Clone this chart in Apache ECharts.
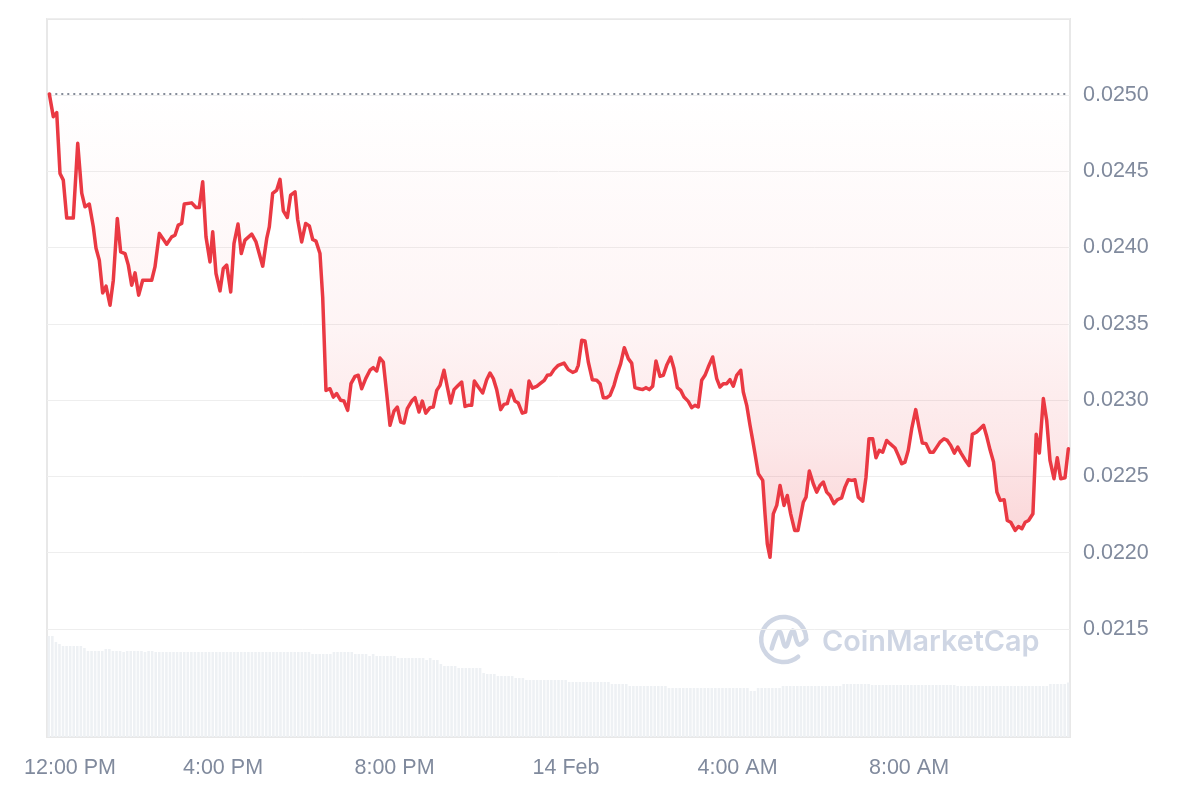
<!DOCTYPE html>
<html>
<head>
<meta charset="utf-8">
<script src="https://cdn.jsdelivr.net/npm/echarts@6/dist/echarts.min.js"></script>
<style>
html,body{margin:0;padding:0;background:#fff;}
#chart{width:1200px;height:800px;}
</style>
</head>
<body>
<div id="chart"></div>
<script>
// x tick labels (minutes after 12:00 PM, 13 Feb)
const tickLabels = ['12:00 PM', '4:00 PM', '8:00 PM', '14 Feb', '4:00 AM', '8:00 AM'];
const tickMinutes = [0, 240, 480, 720, 960, 1200];

// price samples: minutes after 12:00 PM
const priceTimes = [
-3.1, 2.5, 7.3, 11.9, 16.5, 21.3, 30.5, 36.7, 42.3, 46.9,
52.9, 58.5, 62.3, 66.9, 71.6, 76.3, 81.9, 86.5, 92.1, 96.8,
102.9, 107.5, 112.2, 116.9, 122.0, 127.6, 140.2, 144.8, 150.9, 161.2,
168.2, 172.8, 177.4, 182.2, 185.8, 196.2, 202.2, 206.8, 211.6, 216.2,
221.8, 225.6, 230.2, 235.8, 240.4, 245.2, 250.8, 255.4, 261.0, 265.6,
270.8, 280.2, 286.2, 295.6, 301.2, 304.8, 309.5, 315.2, 319.8, 324.4,
330.0, 334.7, 340.8, 344.5,
350.1, 355.7, 360.8, 365.5, 370.1, 375.7, 379.5, 384.1, 389.7, 394.4,
399.1, 404.7, 409.3, 414.5, 419.1, 424.7, 429.3, 434.1, 439.7, 445.7,
450.3, 455.1, 459.7, 464.3, 469.1, 473.7, 479.3, 483.9, 488.7, 493.3,
497.9, 504.1, 508.7, 514.3, 518.9, 523.7, 529.7, 534.3, 539.1, 543.7,
549.3, 553.9, 558.6, 563.3, 567.9, 574.0, 578.7, 583.3, 588.0, 591.7,
597.3, 603.4, 609.0, 613.6, 618.3, 623.0, 628.6, 633.2, 637.8, 643.0,
648.6, 653.2, 658.8, 663.6, 668.2, 672.8, 679.0, 684.6, 689.6, 693.8,
698.6, 703.2, 709.2,
717.2, 723.2, 729.4, 734.0, 737.2, 742.0, 746.6, 751.2, 756.8, 763.0,
767.6, 772.2, 776.9, 781.6, 787.2, 791.8, 796.5, 801.6, 807.2, 811.9,
816.5, 822.1, 827.3, 831.9, 836.6, 841.3, 845.9, 851.5, 856.2, 860.9,
866.5, 871.1, 875.8, 880.5, 885.1, 891.1, 895.9, 900.5, 905.1, 909.9,
914.5, 919.1, 925.3, 930.9, 935.5, 940.1, 944.9, 949.5, 954.1, 958.9,
964.5, 968.1, 972.9, 977.5, 981.3, 984.5, 989.1, 995.3, 998.5, 1001.7,
1005.5, 1010.1, 1014.9, 1019.5, 1025.1, 1029.7, 1034.4, 1040.0, 1044.6,
1052.1, 1055.9, 1060.5, 1066.1, 1070.8, 1075.4, 1080.1, 1084.8, 1089.4, 1095.0,
1099.6, 1105.8, 1110.4, 1115.0, 1119.8, 1124.4, 1129.0, 1135.2, 1139.8, 1144.0,
1149.2, 1153.8, 1158.4, 1163.2, 1168.8, 1173.4, 1180.4, 1185.0, 1189.8, 1194.4,
1199.0, 1203.8, 1209.4, 1214.0, 1218.6, 1223.8, 1229.4, 1234.0, 1238.8, 1243.4,
1249.0, 1253.6, 1258.4, 1263.4, 1268.2, 1272.8, 1278.4, 1284.0, 1288.6, 1294.8,
1299.4, 1304.3, 1309.0, 1313.6, 1318.3, 1323.0, 1327.6, 1333.2, 1337.5, 1342.3,
1348.6, 1353.3, 1358.0, 1362.6, 1367.3, 1373.4, 1378.0, 1382.4, 1388.0, 1392.7,
1397.3, 1402.9, 1407.5, 1412.3, 1418.3, 1423.0
];

const priceValues = [
0.025007, 0.024858, 0.024884, 0.024486, 0.024442, 0.024193, 0.024193, 0.024683, 0.024357, 0.024267,
0.024285, 0.024136, 0.023996, 0.023917, 0.023703, 0.023747, 0.023622, 0.023786, 0.024191, 0.023972,
0.023961, 0.023885, 0.023753, 0.023834, 0.023688, 0.023786, 0.023786, 0.023873, 0.024093, 0.024022,
0.024070, 0.024081, 0.024147, 0.024158, 0.024285, 0.024293, 0.024263, 0.024263, 0.024431, 0.024070,
0.023906, 0.024103, 0.023830, 0.023716, 0.023863, 0.023885, 0.023709, 0.024027, 0.024154, 0.023961,
0.024049, 0.024088, 0.024037, 0.023878, 0.024060, 0.024136, 0.024355, 0.024377, 0.024447, 0.024241,
0.024197, 0.024344, 0.024365, 0.024184,
0.024037, 0.024158, 0.024142, 0.024053, 0.024042, 0.023961,
0.023676, 0.023064, 0.023075, 0.023020, 0.023043, 0.022999, 0.022994, 0.022933, 0.023108, 0.023156,
0.023163, 0.023075, 0.023141, 0.023196, 0.023213, 0.023191, 0.023276, 0.023250, 0.023043, 0.022835,
0.022928, 0.022955, 0.022856, 0.022850, 0.022944, 0.022994, 0.023016, 0.022922, 0.022994, 0.022915,
0.022951, 0.022955, 0.023064, 0.023097, 0.023196, 0.023086, 0.022981, 0.023069, 0.023091, 0.023119,
0.022959, 0.022966, 0.022966, 0.023125, 0.023086, 0.023047, 0.023134, 0.023178, 0.023141, 0.023069,
0.022938, 0.022972, 0.022977, 0.023064, 0.022994, 0.022981, 0.022915, 0.022922, 0.023125, 0.023079,
0.023091, 0.023112, 0.023130, 0.023163, 0.023167, 0.023200, 0.023228,
0.023243, 0.023200, 0.023182, 0.023191, 0.023228, 0.023392, 0.023388, 0.023250, 0.023134, 0.023130,
0.023108, 0.023016, 0.023016, 0.023031, 0.023097, 0.023174, 0.023239, 0.023344, 0.023272, 0.023243,
0.023082, 0.023075, 0.023069, 0.023082, 0.023069, 0.023091, 0.023257, 0.023156, 0.023163, 0.023228,
0.023283, 0.023207, 0.023082, 0.023064, 0.023020, 0.022992, 0.022951, 0.022966, 0.022955, 0.023130,
0.023163, 0.023217, 0.023283, 0.023141, 0.023086, 0.023108, 0.023108, 0.023134, 0.023091, 0.023163,
0.023196, 0.023053, 0.022966, 0.022835, 0.022736, 0.022649, 0.022518, 0.022474, 0.022255, 0.022058,
0.021970, 0.022255, 0.022310, 0.022441, 0.022310, 0.022375, 0.022255, 0.022146, 0.022146,
0.022331, 0.022364, 0.022535, 0.022452, 0.022397, 0.022441, 0.022463, 0.022397, 0.022375, 0.022321,
0.022347, 0.022360, 0.022430, 0.022478, 0.022474, 0.022478, 0.022364, 0.022338, 0.022495, 0.022747,
0.022747, 0.022623, 0.022671, 0.022659, 0.022736, 0.022715, 0.022686, 0.022638, 0.022583, 0.022594,
0.022671, 0.022813, 0.022938, 0.022823, 0.022719, 0.022715, 0.022659, 0.022659, 0.022692, 0.022725,
0.022747, 0.022736, 0.022703, 0.022653, 0.022692, 0.022653, 0.022610, 0.022572, 0.022776, 0.022791,
0.022813, 0.022835, 0.022758, 0.022671, 0.022594, 0.022397, 0.022343, 0.022347, 0.022211, 0.022200,
0.022146, 0.022172, 0.022157, 0.022200, 0.022211, 0.022255, 0.022776, 0.022653, 0.023010, 0.022867,
0.022605, 0.022485, 0.022623, 0.022485, 0.022491, 0.022682
];

// opening price (reference dotted line)
const openPrice = 0.025007;

// volume per 5-minute bar (relative units)
const volume = [
1.01,1.01,0.95,0.93,0.91,0.91,0.91,0.91,0.91,0.91,
0.89,0.86,0.86,0.86,0.86,0.86,0.88,0.88,0.86,0.86,
0.86,0.85,0.86,0.86,0.86,0.86,0.86,0.85,0.86,0.86,
0.85,0.85,0.85,0.85,0.85,0.85,0.85,0.85,0.85,0.85,
0.85,0.85,0.85,0.85,0.85,0.85,0.85,0.85,0.85,0.85,
0.85,0.85,0.85,0.85,0.85,0.85,0.85,0.85,0.85,0.85,
0.85,0.85,0.85,0.85,0.85,0.85,0.85,0.85,0.85,0.85,
0.85,0.85,0.85,0.85,0.83,0.83,0.83,0.83,0.83,0.83,
0.85,0.85,0.85,0.85,0.85,0.85,0.83,0.83,0.83,0.83,
0.81,0.83,0.81,0.81,0.81,0.81,0.81,0.81,0.79,0.79,
0.79,0.79,0.79,0.79,0.79,0.79,0.77,0.79,0.77,0.77,
0.73,0.71,0.71,0.71,0.71,0.69,0.69,0.69,0.69,0.69,
0.69,0.69,0.64,0.63,0.63,0.63,0.61,0.61,0.61,0.61,
0.61,0.59,0.59,0.59,0.57,0.57,0.57,0.57,0.57,0.57,
0.57,0.57,0.57,0.57,0.57,0.57,0.55,0.55,0.55,0.55,
0.55,0.55,0.55,0.55,0.55,0.55,0.55,0.55,0.53,0.53,
0.53,0.53,0.53,0.51,0.51,0.51,0.51,0.51,0.51,0.51,
0.51,0.51,0.51,0.51,0.49,0.49,0.49,0.49,0.49,0.49,
0.49,0.49,0.49,0.49,0.49,0.49,0.49,0.49,0.49,0.49,
0.49,0.49,0.49,0.49,0.49,0.49,0.49,0.46,0.46,0.49,
0.49,0.49,0.49,0.49,0.49,0.49,0.51,0.51,0.51,0.51,
0.51,0.51,0.51,0.51,0.51,0.51,0.51,0.51,0.51,0.51,
0.51,0.51,0.51,0.53,0.53,0.53,0.53,0.53,0.53,0.53,
0.53,0.52,0.52,0.52,0.52,0.52,0.52,0.52,0.52,0.52,
0.52,0.52,0.52,0.52,0.52,0.52,0.52,0.52,0.52,0.52,
0.52,0.52,0.52,0.52,0.52,0.51,0.51,0.51,0.51,0.51,
0.51,0.51,0.51,0.51,0.51,0.51,0.51,0.51,0.51,0.51,
0.51,0.51,0.51,0.51,0.51,0.51,0.51,0.51,0.51,0.51,
0.51,0.53,0.53,0.53,0.53,0.53,0.545
];

const n = Math.min(priceTimes.length, priceValues.length);
const priceData = [];
for (let i = 0; i < n; i++) priceData.push([priceTimes[i], priceValues[i]]);
const baselineData = [[priceTimes[0], openPrice], [priceTimes[n - 1], openPrice]];
const volumeCats = volume.map((_, i) => String(i));

const labelFont = 'Liberation Sans, Arial, Helvetica, sans-serif';
const labelColor = '#808a9d';
const gridLineColors = ['rgba(0,0,0,0)'].concat(new Array(9).fill('#eeeeee'));
const wmColor = '#cfd6e4';
const logoCx = 783.7, logoCy = 639.5;

const chart = echarts.init(document.getElementById('chart'), null, {renderer: 'canvas'});
chart.setOption({
  animation: false,
  backgroundColor: '#ffffff',
  grid: [
    {left: 47, right: 130, top: 18.7, bottom: 94.7, containLabel: false},
    {left: 47, right: 130, top: 19, bottom: 63, show: true, borderColor: '#e8e8e8', borderWidth: 2, backgroundColor: 'transparent'}
  ],
  xAxis: [
    {
      type: 'value', gridIndex: 0, min: -6.3, max: 1425.3,
      axisLine: {show: false}, axisTick: {show: false}, splitLine: {show: false},
      axisLabel: {
        customValues: tickMinutes,
        margin: 52,
        color: labelColor, fontSize: 21.5, fontFamily: labelFont,
        formatter: function (v) {
          const i = tickMinutes.indexOf(Math.round(v));
          if (i < 0) return '';
          return i === 0 ? '{first|' + tickLabels[0] + '}' : tickLabels[i];
        },
        rich: {first: {padding: [0, 0, 0, 37], color: labelColor, fontSize: 21.5, fontFamily: labelFont}}
      }
    },
    {type: 'category', gridIndex: 1, data: volumeCats, boundaryGap: true, show: false}
  ],
  yAxis: [
    {
      type: 'value', gridIndex: 0, position: 'right', min: 0.0210, max: 0.0255, interval: 0.0005,
      axisLine: {show: false}, axisTick: {show: false},
      splitLine: {show: true, lineStyle: {color: gridLineColors, width: 1}},
      axisLabel: {
        margin: 13, color: labelColor, fontSize: 21.5, fontFamily: labelFont,
        padding: [4, 0, 0, 0],
        formatter: function (v) { return (v < 0.02105 || v > 0.02545) ? '' : v.toFixed(4); }
      }
    },
    {type: 'value', gridIndex: 1, min: 0, max: 7.18, show: false, splitLine: {show: false}}
  ],
  graphic: [
    {
      type: 'arc', silent: true, z: 0,
      shape: {cx: logoCx, cy: logoCy, r: 22.5, startAngle: 50 * Math.PI / 180, endAngle: 2 * Math.PI, clockwise: true},
      style: {fill: 'none', stroke: wmColor, lineWidth: 4.5, lineCap: 'round'}
    },
    {
      type: 'polyline', silent: true, z: 0,
      shape: {
        points: [[logoCx - 12, logoCy + 9], [logoCx - 4.5, logoCy - 8], [logoCx + 2, logoCy + 7], [logoCx + 9, logoCy - 9], [logoCx + 15, logoCy + 5], [logoCx + 22.5, logoCy]],
        smooth: 0.4
      },
      style: {fill: 'none', stroke: wmColor, lineWidth: 4.5, lineCap: 'round', lineJoin: 'round'}
    },
    {
      type: 'text', x: 822, y: 642, silent: true, z: 0,
      style: {text: 'CoinMarketCap', fill: wmColor, fontSize: 28.8, fontWeight: 600, fontFamily: 'Inter, Open Sans, sans-serif', textAlign: 'left', textVerticalAlign: 'middle'}
    }
  ],
  series: [
    {
      type: 'bar', xAxisIndex: 1, yAxisIndex: 1, data: volume, barWidth: '72%',
      itemStyle: {color: '#eef1f4'}, silent: true, z: 1
    },
    {
      type: 'line', xAxisIndex: 0, yAxisIndex: 0, data: baselineData,
      showSymbol: false, symbol: 'none', silent: true, z: 2,
      lineStyle: {color: '#858c99', type: [2, 4], width: 2}
    },
    {
      type: 'line', xAxisIndex: 0, yAxisIndex: 0, data: priceData,
      showSymbol: false, symbol: 'none', smooth: false, z: 3,
      lineStyle: {color: '#ea3943', width: 3.5, join: 'round', cap: 'round'},
      areaStyle: {
        origin: openPrice,
        color: {
          type: 'linear', x: 0, y: 0, x2: 0, y2: 1,
          colorStops: [
            {offset: 0, color: 'rgba(234,57,67,0.0)'},
            {offset: 0.5, color: 'rgba(234,57,67,0.075)'},
            {offset: 0.75, color: 'rgba(234,57,67,0.17)'},
            {offset: 1, color: 'rgba(234,57,67,0.32)'}
          ]
        }
      }
    }
  ]
});
</script>
</body>
</html>
